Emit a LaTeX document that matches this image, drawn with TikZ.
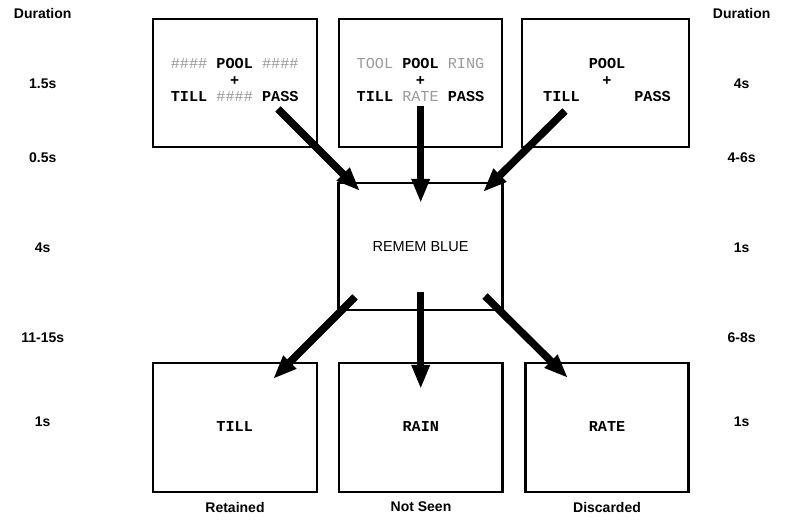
\documentclass[tikz,border=0pt]{standalone}
\usepackage{fontspec}
\setmainfont{Liberation Sans}
\newfontfamily\monof[WordSpace={1,0,0}]{Liberation Mono}
\usetikzlibrary{arrows.meta}
\definecolor{dimgray}{HTML}{9A9A9A}
\begin{document}
\begin{tikzpicture}[x=1pt,y=-1pt,
  frame/.style={draw=black,line width=2.4pt,inner sep=0pt,minimum height=128pt},
  mono/.style={inner sep=0pt,align=center,font=\monof\bfseries\fontsize{15.2}{16.7}\selectfont},
  lab/.style={inner sep=0pt,font=\bfseries\fontsize{14}{16}\selectfont},
  arr/.style={line width=7.5pt,-{Triangle[width=17pt,length=24pt]}}]
\fill[white] (0,0) rectangle (788,521);
\useasboundingbox (0,0) rectangle (788,521);
\newcommand{\gr}[1]{{\color{dimgray}\mdseries #1}}
% top boxes
\node[frame,minimum width=164pt] (t1) at (234.7,83) {};
\node[frame,minimum width=163pt] (t2) at (420.5,83) {};
\node[frame,minimum width=167pt] (t3) at (605.5,83) {};
\node[mono] (t1x) at (234.7,80) {\gr{\#\#\#\#} POOL \gr{\#\#\#\#}\\+\\TILL \gr{\#\#\#\#} PASS};
\node[mono] (t2x) at (420.5,80) {\gr{TOOL} POOL \gr{RING}\\+\\TILL \gr{RATE} PASS};
\node[mono] (t3x) at (607,80) {POOL\\+\\TILL \hphantom{XXXX} PASS};
% middle box
\node[frame,minimum width=164pt,minimum height=127pt,font=\fontsize{14.5}{16}\selectfont] (m) at (420.5,246.5) {REMEM BLUE};
% bottom boxes
\node[frame,minimum width=164pt,minimum height=129pt] (b1) at (234.7,427.5) {};
\node[frame,minimum width=163.5pt,minimum height=129pt] (b2) at (420.8,427.5) {};
\node[frame,minimum width=163pt,minimum height=129pt] (b3) at (607,427.5) {};
\node[mono] (b1x) at (234.7,426) {TILL};
\node[mono] (b2x) at (420.8,426) {RAIN};
\node[mono] (b3x) at (607,426) {RATE};
% arrows
\coordinate (a1s) at (278,109); \coordinate (a1e) at (360,191);
\coordinate (a2s) at (420.7,106); \coordinate (a2e) at (420.7,203);
\coordinate (a3s) at (565,111); \coordinate (a3e) at (483,192);
\coordinate (a4s) at (355,297); \coordinate (a4e) at (273,379);
\coordinate (a5s) at (420.7,292); \coordinate (a5e) at (420.7,389);
\coordinate (a6s) at (485,296); \coordinate (a6e) at (568,378);
\draw[arr] (a1s) -- (a1e);
\draw[arr] (a2s) -- (a2e);
\draw[arr] (a3s) -- (a3e);
\draw[arr] (a4s) -- (a4e);
\draw[arr] (a5s) -- (a5e);
\draw[arr] (a6s) -- (a6e);
% duration labels
\node[lab] (dl) at (42.7,13) {Duration};
\node[lab] (l1) at (42.7,84) {1.5s};
\node[lab] (l2) at (42.7,158) {0.5s};
\node[lab] (l3) at (42.7,248) {4s};
\node[lab] (l4) at (42.7,338) {11-15s};
\node[lab] (l5) at (42.7,422) {1s};
\node[lab] (dr) at (741.7,13) {Duration};
\node[lab] (r1) at (741.7,84) {4s};
\node[lab] (r2) at (741.7,158) {4-6s};
\node[lab] (r3) at (741.7,248) {1s};
\node[lab] (r4) at (741.7,338) {6-8s};
\node[lab] (r5) at (741.7,422) {1s};
% bottom labels
\node[lab] (c1) at (235,507) {Retained};
\node[lab] (c2) at (421,507) {Not Seen};
\node[lab] (c3) at (607,507) {Discarded};
\end{tikzpicture}
\end{document}
